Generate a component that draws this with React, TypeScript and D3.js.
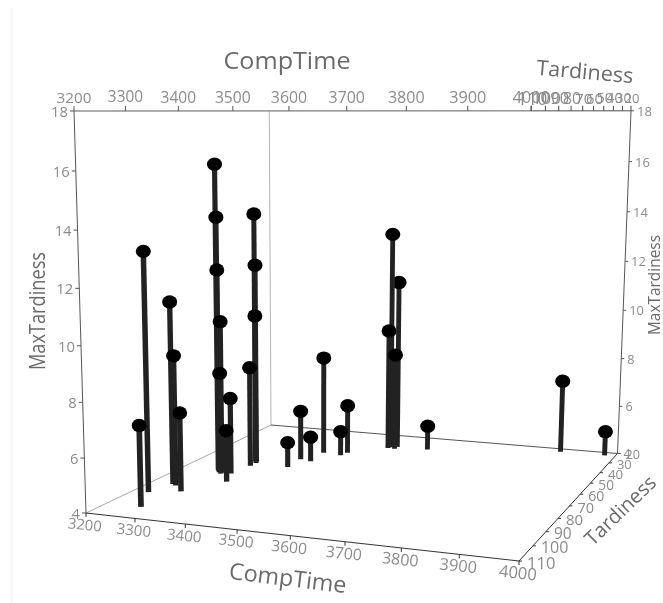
import React from "react";
import * as d3 from "d3";

const compTime = [3278,3284,3289,3295,3297,3315,3321,3324,3324,3233,3247,3258,3288,3272,3315,3336,3534,3546,3531,3546,3419,3466,3397,3461,3423,3399,3614,3884,3978];
const tardiness = [68,69,70,70,71,57,58,59,62,91,83,84,88,102,70,77,33,32,34,34,44,42,52,45,53,60,32,23,23];
const maxTardiness = [16,14,12,10,8,14,12,10,8,13,11,9,7,7,7,6,13,11,9,8,8,6,6,5,5,5,5,7,5];

const compTimeTicks = [3200,3300,3400,3500,3600,3700,3800,3900,4000];
const tardinessTicks = [110,100,90,80,70,60,50,40,30,20];
const maxTardinessTicks = [4,6,8,10,12,14,16,18];

// cube corners on screen and their homogeneous weights
const O = [86, 513], Pu = [519, 561], Pv = [74, 111], Pw = [271, 425];
const a = 0.893, b = 0.95, c = 1.28;
const hU = [a * Pu[0] - O[0], a * Pu[1] - O[1], a - 1];
const hV = [b * Pv[0] - O[0], b * Pv[1] - O[1], b - 1];
const hW = [c * Pw[0] - O[0], c * Pw[1] - O[1], c - 1];

const xScale = d3.scaleLinear().domain([3200, 4000]).range([0, 1]);
const yScale = d3.scaleLinear().domain([4, 18]).range([0, 1]);
const zScale = d3.scaleLinear().domain([110, 20]).range([0, 1]);

function project(x: number, y: number, z: number) {
  const u = xScale(x), v = yScale(y), w = zScale(z);
  const h = 1 + u * hU[2] + v * hV[2] + w * hW[2];
  return {
    x: (O[0] + u * hU[0] + v * hV[0] + w * hW[0]) / h,
    y: (O[1] + u * hU[1] + v * hV[1] + w * hW[1]) / h,
    k: 1 / h,
  };
}

const Seg = ({ p, q, color, width = 1 }: any) => (
  <line x1={p.x} y1={p.y} x2={q.x} y2={q.y} stroke={color} strokeWidth={width} />
);

const Label = ({ x, y, size, rotate = 0, anchor = "middle", color = "#8c8c8c", length, children }: any) => (
  <text
    x={x}
    y={y}
    fontSize={size}
    fill={color}
    textAnchor={anchor}
    dominantBaseline="central"
    textLength={length}
    lengthAdjust={length ? "spacingAndGlyphs" : undefined}
    transform={rotate ? `rotate(${rotate} ${x} ${y})` : undefined}
  >
    {children}
  </text>
);

const BASE_FONT = 14.8;
const TITLE = "#6a6a6a";

export default function App() {
  const [x0, x1] = xScale.domain();
  const [y0, y1] = yScale.domain();
  const [zf, zb] = zScale.domain();

  const points = compTime
    .map((d, i) => ({ top: project(d, maxTardiness[i], tardiness[i]), foot: project(d, y0, tardiness[i]) }))
    .sort((p, q) => p.foot.k - q.foot.k);

  return (
    <svg width={663} height={603} style={{ position: "absolute", left: 0, top: 0, fontFamily: "'Open Sans'" }}>
      <defs>
        <filter id="soft" x="0" y="0" width="100%" height="100%">
          <feGaussianBlur stdDeviation="0.45" />
        </filter>
      </defs>
      <rect width={663} height={603} fill="#fff" />
      <rect x={10} y={8} width={3} height={595} fill="#f8f8f8" />
      <g filter="url(#soft)">
        {/* back walls and floor */}
        <Seg p={project(x0, y0, zf)} q={project(x0, y0, zb)} color="#a8a8a8" />
        <Seg p={project(x0, y0, zb)} q={project(x0, y1, zb)} color="#b4b4b4" />
        <Seg p={project(x0, y1, zf)} q={project(x0, y1, zb)} color="#c8c8c8" />
        <Seg p={project(x0, y1, zb)} q={project(x1, y1, zb)} color="#c8c8c8" />
        <Seg p={project(x0, y0, zb)} q={project(x1, y0, zb)} color="#555" />

        {/* axes */}
        <Seg p={project(x0, y0, zf)} q={project(x1, y0, zf)} color="#333" />
        <Seg p={project(x1, y0, zf)} q={project(x1, y0, zb)} color="#333" />
        <Seg p={project(x0, y1, zf)} q={project(x1, y1, zf)} color="#777" />
        <Seg p={project(x1, y1, zf)} q={project(x1, y1, zb)} color="#666" />
        <Seg p={project(x0, y0, zf)} q={project(x0, y1, zf)} color="#555" />
        <Seg p={project(x1, y0, zb)} q={project(x1, y1, zb)} color="#555" />

        {compTimeTicks.map((t) => {
          const top = project(t, y1, zf);
          const bot = project(t, y0, zf);
          return (
            <g key={t}>
              <line x1={top.x} y1={top.y} x2={top.x} y2={top.y - 5} stroke="#555" />
              <line x1={bot.x} y1={bot.y} x2={bot.x} y2={bot.y + 4} stroke="#333" />
              <Label x={top.x} y={top.y - 14} size={BASE_FONT * Math.pow(top.k, 0.6)}>{t}</Label>
              <Label x={bot.x - 1} y={bot.y + 11} size={BASE_FONT * bot.k} rotate={6}>{t}</Label>
            </g>
          );
        })}

        {tardinessTicks.map((t) => {
          const top = project(x1, y1, t);
          const bot = project(x1, y0, t);
          return (
            <g key={t}>
              <line x1={top.x} y1={top.y} x2={top.x} y2={top.y - 5} stroke="#444" />
              <line x1={bot.x} y1={bot.y} x2={bot.x + 3} y2={bot.y} stroke="#333" />
              <Label x={top.x + 1} y={top.y - 13} size={BASE_FONT * top.k}>{t}</Label>
              <Label x={bot.x + 8} y={bot.y + 1} size={BASE_FONT * bot.k} anchor="start">{t}</Label>
            </g>
          );
        })}

        {maxTardinessTicks.map((t) => {
          const left = project(x0, t, zf);
          const right = project(x1, t, zb);
          return (
            <g key={t}>
              <line x1={left.x - 4} y1={left.y} x2={left.x} y2={left.y} stroke="#555" />
              <line x1={right.x} y1={right.y} x2={right.x + 3} y2={right.y} stroke="#555" />
              <Label x={left.x - 6} y={left.y} size={BASE_FONT} anchor="end">{t}</Label>
              <Label x={right.x + 6} y={right.y} size={BASE_FONT * right.k} anchor="start">{t}</Label>
            </g>
          );
        })}

        {/* stems and heads, far to near */}
        {points.map((p, i) => (
          <g key={i}>
            <Seg p={p.top} q={p.foot} color="#232323" width={5.8 * p.foot.k} />
            <ellipse cx={p.top.x} cy={p.top.y} rx={7.5} ry={6.7} fill="#050505" />
          </g>
        ))}

        <Label x={287} y={60} size={23} color={TITLE} length={127}>CompTime</Label>
        <Label x={288} y={577} size={23} rotate={7} color={TITLE} length={118}>CompTime</Label>
        <Label x={585} y={71} size={21} rotate={5} color={TITLE} length={97}>Tardiness</Label>
        <Label x={620} y={510} size={20} rotate={-44} color={TITLE} length={90}>Tardiness</Label>
        <Label x={36} y={311} size={22} rotate={-90} color={TITLE} length={118}>MaxTardiness</Label>
        <Label x={653} y={285} size={17} rotate={-90} color={TITLE} length={100}>MaxTardiness</Label>
      </g>
    </svg>
  );
}
